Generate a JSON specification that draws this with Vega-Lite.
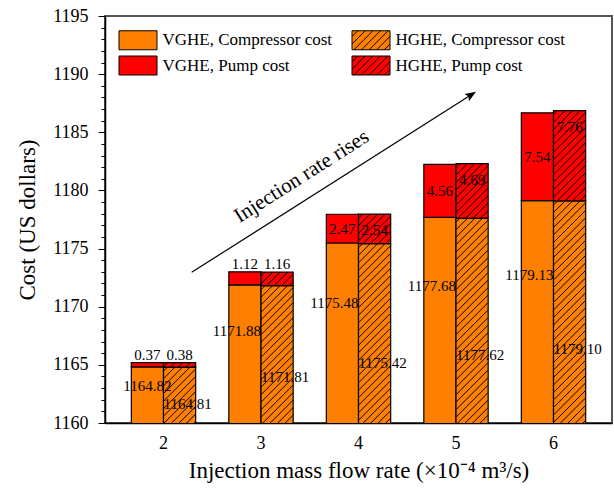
{
  "$schema": "https://vega.github.io/schema/vega-lite/v6.json",
  "width": 507,
  "height": 407,
  "autosize": "none",
  "padding": {"left": 105, "top": 16, "right": 2, "bottom": 70},
  "background": "white",
  "config": {
    "font": "Liberation Serif",
    "view": {"stroke": "#555555", "strokeWidth": 2},
    "axis": {"labelFont": "Liberation Serif", "titleFont": "Liberation Serif", "labelColor": "black", "titleColor": "black", "domainColor": "black", "tickColor": "black", "titleFontWeight": "normal", "grid": false},
    "legend": {"labelFont": "Liberation Serif", "titleFont": "Liberation Serif"},
    "text": {"font": "Liberation Serif"}
  },
  "data": {
    "values": [
      {"flow": "2", "hx": "VGHE", "part": "Compressor", "series": "VGHE, Compressor cost", "value": 1164.82},
      {"flow": "2", "hx": "VGHE", "part": "Pump", "series": "VGHE, Pump cost", "value": 0.37},
      {"flow": "2", "hx": "HGHE", "part": "Compressor", "series": "HGHE, Compressor cost", "value": 1164.81},
      {"flow": "2", "hx": "HGHE", "part": "Pump", "series": "HGHE, Pump cost", "value": 0.38},
      {"flow": "3", "hx": "VGHE", "part": "Compressor", "series": "VGHE, Compressor cost", "value": 1171.88},
      {"flow": "3", "hx": "VGHE", "part": "Pump", "series": "VGHE, Pump cost", "value": 1.12},
      {"flow": "3", "hx": "HGHE", "part": "Compressor", "series": "HGHE, Compressor cost", "value": 1171.81},
      {"flow": "3", "hx": "HGHE", "part": "Pump", "series": "HGHE, Pump cost", "value": 1.16},
      {"flow": "4", "hx": "VGHE", "part": "Compressor", "series": "VGHE, Compressor cost", "value": 1175.48},
      {"flow": "4", "hx": "VGHE", "part": "Pump", "series": "VGHE, Pump cost", "value": 2.47},
      {"flow": "4", "hx": "HGHE", "part": "Compressor", "series": "HGHE, Compressor cost", "value": 1175.42},
      {"flow": "4", "hx": "HGHE", "part": "Pump", "series": "HGHE, Pump cost", "value": 2.54},
      {"flow": "5", "hx": "VGHE", "part": "Compressor", "series": "VGHE, Compressor cost", "value": 1177.68},
      {"flow": "5", "hx": "VGHE", "part": "Pump", "series": "VGHE, Pump cost", "value": 4.56},
      {"flow": "5", "hx": "HGHE", "part": "Compressor", "series": "HGHE, Compressor cost", "value": 1177.62},
      {"flow": "5", "hx": "HGHE", "part": "Pump", "series": "HGHE, Pump cost", "value": 4.69},
      {"flow": "6", "hx": "VGHE", "part": "Compressor", "series": "VGHE, Compressor cost", "value": 1179.13},
      {"flow": "6", "hx": "VGHE", "part": "Pump", "series": "VGHE, Pump cost", "value": 7.54},
      {"flow": "6", "hx": "HGHE", "part": "Compressor", "series": "HGHE, Compressor cost", "value": 1179.10},
      {"flow": "6", "hx": "HGHE", "part": "Pump", "series": "HGHE, Pump cost", "value": 7.76}
    ]
  },
  "resolve": {"scale": {"x": "independent", "y": "independent", "xOffset": "independent"}},
  "layer": [
    {
      "transform": [{"stack": "value", "groupby": ["flow", "hx"], "sort": [{"field": "part", "order": "ascending"}], "as": ["v0", "v1"]}],
      "layer": [
        {
          "mark": {"type": "bar", "clip": true, "stroke": "black", "strokeWidth": 1.2},
          "encoding": {
            "x": {"field": "flow", "type": "nominal", "scale": {"type": "band", "domain": ["2", "3", "4", "5", "6"], "paddingInner": 0.34, "paddingOuter": 0.27},
              "axis": {"title": "Injection mass flow rate (×10⁻⁴ m³/s)", "labelAngle": 0, "ticks": false, "labelFont": "Liberation Serif", "titleFont": "Liberation Serif", "labelFontSize": 18, "labelPadding": 11, "titleFontSize": 23, "titlePadding": 7, "domainWidth": 1.5}},
            "xOffset": {"field": "hx", "type": "nominal", "scale": {"domain": ["VGHE", "HGHE"], "paddingInner": 0, "paddingOuter": 0}},
            "y": {"field": "v1", "type": "quantitative", "title": "Cost (US dollars)", "scale": {"domain": [1160, 1195], "nice": false, "zero": false},
              "axis": {"values": [1160, 1165, 1170, 1175, 1180, 1185, 1190, 1195], "format": "d", "labelOverlap": false, "tickSize": 7, "tickWidth": 1,
                "labelFont": "Liberation Serif", "titleFont": "Liberation Serif",
                "labelFontSize": 18, "labelPadding": 10, "title": "Cost (US dollars)", "titleFontSize": 23, "titlePadding": 13, "domainWidth": 1.5}},
            "y2": {"field": "v0"},
            "color": {"field": "series", "type": "nominal",
              "scale": {"domain": ["VGHE, Compressor cost", "VGHE, Pump cost", "HGHE, Compressor cost", "HGHE, Pump cost"], "range": ["#FF8000", "#FF0000", "#FF8000", "#FF0000"]},
              "legend": {"orient": "none", "legendX": 13.5, "legendY": 14, "columns": 2, "title": null, "symbolSize": 361, "labelOffset": 24, "labelFont": "Liberation Serif", "labelFontSize": 17, "labelColor": "black", "columnPadding": 17, "rowPadding": 1.5, "symbolStrokeWidth": 1, "symbolStrokeColor": "black", "padding": 0, "labelLimit": 300}}
          }
        },
        {
          "encoding": {
            "x": {"field": "flow", "type": "nominal"},
            "xOffset": {"field": "hx", "type": "nominal"},
            "y": {"field": "v1", "type": "quantitative", "title": "Cost (US dollars)", "scale": {"domain": [1160, 1195], "nice": false, "zero": false}}
          },
          "layer": [
            {"transform": [{"filter": "datum.hx=='HGHE' && datum.part=='Compressor' && datum.flow=='2'"}],
             "mark": {"type": "point", "size": 4, "filled": false, "color": "black", "strokeWidth": 1, "opacity": 1,
               "shape": "M-16,4L-12,0M-16,11.5L-4.5,0M-16,19L3,0M-16,26.5L10.5,0M-16,34L16,2M-16,41.5L16,9.5M-16,49L16,17M-15.4,55.9L16,24.5M-7.9,55.9L16,32M-0.4,55.9L16,39.5M7.1,55.9L16,47M14.6,55.9L16,54.5"}},
            {"transform": [{"filter": "datum.hx=='HGHE' && datum.part=='Compressor' && datum.flow=='3'"}],
             "mark": {"type": "point", "size": 4, "filled": false, "color": "black", "strokeWidth": 1, "opacity": 1,
               "shape": "M-16,4L-12,0M-16,11.5L-4.5,0M-16,19L3,0M-16,26.5L10.5,0M-16,34L16,2M-16,41.5L16,9.5M-16,49L16,17M-16,56.5L16,24.5M-16,64L16,32M-16,71.5L16,39.5M-16,79L16,47M-16,86.5L16,54.5M-16,94L16,62M-16,101.5L16,69.5M-16,109L16,77M-16,116.5L16,84.5M-16,124L16,92M-16,131.5L16,99.5M-14.3,137.3L16,107M-6.8,137.3L16,114.5M0.7,137.3L16,122M8.2,137.3L16,129.5"}},
            {"transform": [{"filter": "datum.hx=='HGHE' && datum.part=='Compressor' && datum.flow=='4'"}],
             "mark": {"type": "point", "size": 4, "filled": false, "color": "black", "strokeWidth": 1, "opacity": 1,
               "shape": "M-16,4L-12,0M-16,11.5L-4.5,0M-16,19L3,0M-16,26.5L10.5,0M-16,34L16,2M-16,41.5L16,9.5M-16,49L16,17M-16,56.5L16,24.5M-16,64L16,32M-16,71.5L16,39.5M-16,79L16,47M-16,86.5L16,54.5M-16,94L16,62M-16,101.5L16,69.5M-16,109L16,77M-16,116.5L16,84.5M-16,124L16,92M-16,131.5L16,99.5M-16,139L16,107M-16,146.5L16,114.5M-16,154L16,122M-16,161.5L16,129.5M-16,169L16,137M-16,176.5L16,144.5M-11.3,179.3L16,152M-3.8,179.3L16,159.5M3.7,179.3L16,167M11.2,179.3L16,174.5"}},
            {"transform": [{"filter": "datum.hx=='HGHE' && datum.part=='Compressor' && datum.flow=='5'"}],
             "mark": {"type": "point", "size": 4, "filled": false, "color": "black", "strokeWidth": 1, "opacity": 1,
               "shape": "M-16,4L-12,0M-16,11.5L-4.5,0M-16,19L3,0M-16,26.5L10.5,0M-16,34L16,2M-16,41.5L16,9.5M-16,49L16,17M-16,56.5L16,24.5M-16,64L16,32M-16,71.5L16,39.5M-16,79L16,47M-16,86.5L16,54.5M-16,94L16,62M-16,101.5L16,69.5M-16,109L16,77M-16,116.5L16,84.5M-16,124L16,92M-16,131.5L16,99.5M-16,139L16,107M-16,146.5L16,114.5M-16,154L16,122M-16,161.5L16,129.5M-16,169L16,137M-16,176.5L16,144.5M-16,184L16,152M-16,191.5L16,159.5M-16,199L16,167M-14.4,204.9L16,174.5M-6.9,204.9L16,182M0.6,204.9L16,189.5M8.1,204.9L16,197"}},
            {"transform": [{"filter": "datum.hx=='HGHE' && datum.part=='Compressor' && datum.flow=='6'"}],
             "mark": {"type": "point", "size": 4, "filled": false, "color": "black", "strokeWidth": 1, "opacity": 1,
               "shape": "M-16,4L-12,0M-16,11.5L-4.5,0M-16,19L3,0M-16,26.5L10.5,0M-16,34L16,2M-16,41.5L16,9.5M-16,49L16,17M-16,56.5L16,24.5M-16,64L16,32M-16,71.5L16,39.5M-16,79L16,47M-16,86.5L16,54.5M-16,94L16,62M-16,101.5L16,69.5M-16,109L16,77M-16,116.5L16,84.5M-16,124L16,92M-16,131.5L16,99.5M-16,139L16,107M-16,146.5L16,114.5M-16,154L16,122M-16,161.5L16,129.5M-16,169L16,137M-16,176.5L16,144.5M-16,184L16,152M-16,191.5L16,159.5M-16,199L16,167M-16,206.5L16,174.5M-16,214L16,182M-16,221.5L16,189.5M-9.1,222.1L16,197M-1.6,222.1L16,204.5M5.9,222.1L16,212M13.4,222.1L16,219.5"}},
            {"transform": [{"filter": "datum.hx=='HGHE' && datum.part=='Pump' && datum.flow=='2'"}],
             "mark": {"type": "point", "size": 4, "filled": false, "color": "black", "strokeWidth": 1, "opacity": 1,
               "shape": "M-16,4L-12,0M-8.9,4.4L-4.5,0M-1.4,4.4L3,0M6.1,4.4L10.5,0M13.6,4.4L16,2"}},
            {"transform": [{"filter": "datum.hx=='HGHE' && datum.part=='Pump' && datum.flow=='3'"}],
             "mark": {"type": "point", "size": 4, "filled": false, "color": "black", "strokeWidth": 1, "opacity": 1,
               "shape": "M-16,4L-12,0M-16,11.5L-4.5,0M-10.5,13.5L3,0M-3,13.5L10.5,0M4.5,13.5L16,2M12,13.5L16,9.5"}},
            {"transform": [{"filter": "datum.hx=='HGHE' && datum.part=='Pump' && datum.flow=='4'"}],
             "mark": {"type": "point", "size": 4, "filled": false, "color": "black", "strokeWidth": 1, "opacity": 1,
               "shape": "M-16,4L-12,0M-16,11.5L-4.5,0M-16,19L3,0M-16,26.5L10.5,0M-11.5,29.5L16,2M-4,29.5L16,9.5M3.5,29.5L16,17M11,29.5L16,24.5"}},
            {"transform": [{"filter": "datum.hx=='HGHE' && datum.part=='Pump' && datum.flow=='5'"}],
             "mark": {"type": "point", "size": 4, "filled": false, "color": "black", "strokeWidth": 1, "opacity": 1,
               "shape": "M-16,4L-12,0M-16,11.5L-4.5,0M-16,19L3,0M-16,26.5L10.5,0M-16,34L16,2M-16,41.5L16,9.5M-16,49L16,17M-14,54.5L16,24.5M-6.5,54.5L16,32M1,54.5L16,39.5M8.5,54.5L16,47"}},
            {"transform": [{"filter": "datum.hx=='HGHE' && datum.part=='Pump' && datum.flow=='6'"}],
             "mark": {"type": "point", "size": 4, "filled": false, "color": "black", "strokeWidth": 1, "opacity": 1,
               "shape": "M-16,4L-12,0M-16,11.5L-4.5,0M-16,19L3,0M-16,26.5L10.5,0M-16,34L16,2M-16,41.5L16,9.5M-16,49L16,17M-16,56.5L16,24.5M-16,64L16,32M-16,71.5L16,39.5M-16,79L16,47M-16,86.5L16,54.5M-12.2,90.2L16,62M-4.7,90.2L16,69.5M2.8,90.2L16,77M10.3,90.2L16,84.5"}},
            {"transform": [{"filter": "datum.part=='Pump' && datum.value < 2"}],
             "mark": {"type": "text", "baseline": "middle", "dy": -8, "fontSize": 15, "color": "black"},
             "encoding": {"text": {"field": "value", "type": "quantitative", "format": ".2f"}}},
            {"transform": [{"filter": "datum.hx=='HGHE' && datum.part=='Pump' && datum.value >= 2"}],
             "mark": {"type": "text", "baseline": "middle", "dy": 16, "fontSize": 15, "color": "black"},
             "encoding": {"text": {"field": "value", "type": "quantitative", "format": ".2f"}}}
          ]
        },
        {
          "transform": [{"filter": "datum.hx=='VGHE' && indexof(['4','5','6'], datum.flow) >= 0"}],
          "mark": {"type": "text", "baseline": "middle", "fontSize": 15, "color": "black", "clip": true},
          "encoding": {
            "x": {"field": "flow", "type": "nominal"},
            "xOffset": {"field": "hx", "type": "nominal"},
            "y": {"field": "value", "type": "quantitative", "stack": "zero", "bandPosition": 0.5, "title": "Cost (US dollars)", "scale": {"domain": [1160, 1195], "nice": false, "zero": false}},
            "order": {"field": "part", "type": "nominal"},
            "text": {"condition": {"test": "datum.part == 'Pump'", "field": "value", "type": "quantitative", "format": ".2f"}, "value": ""}
          }
        },
        {
          "transform": [{"filter": "false"}],
          "mark": {"type": "point", "filled": true, "stroke": "black", "strokeWidth": 1, "opacity": 1},
          "encoding": {
            "color": {"field": "series", "type": "nominal",
              "scale": {"domain": ["VGHE, Compressor cost", "VGHE, Pump cost", "HGHE, Compressor cost", "HGHE, Pump cost"], "range": ["#FF8000", "#FF0000", "#FF8000", "#FF0000"]},
              "legend": {"orient": "none", "legendX": 13.5, "legendY": 14, "columns": 2, "title": null, "symbolSize": 361, "labelOffset": 24, "labelFont": "Liberation Serif", "labelFontSize": 17, "labelColor": "black", "columnPadding": 17, "rowPadding": 1.5, "symbolStrokeWidth": 1, "symbolStrokeColor": "black", "padding": 0, "labelLimit": 300}},
            "shape": {"field": "series", "type": "nominal",
              "scale": {"domain": ["VGHE, Compressor cost", "VGHE, Pump cost", "HGHE, Compressor cost", "HGHE, Pump cost"],
                "range": ["M-1,-1H3V1H-1Z", "M-1,-1H3V1H-1Z", "M-1,-1H3V1H-1ZM-1,-0.4L-0.4,-1M-1,0.4L0.4,-1M-0.8,1L1.2,-1M0,1L2,-1M0.8,1L2.8,-1M1.6,1L3,-0.4M2.4,1L3,0.4", "M-1,-1H3V1H-1ZM-1,-0.4L-0.4,-1M-1,0.4L0.4,-1M-0.8,1L1.2,-1M0,1L2,-1M0.8,1L2.8,-1M1.6,1L3,-0.4M2.4,1L3,0.4"]},
              "legend": {"orient": "none", "legendX": 13.5, "legendY": 14, "columns": 2, "title": null, "symbolSize": 361, "labelOffset": 24, "labelFont": "Liberation Serif", "labelFontSize": 17, "labelColor": "black", "columnPadding": 17, "rowPadding": 1.5, "symbolStrokeWidth": 1, "symbolStrokeColor": "black", "padding": 0, "labelLimit": 300}}
          }
        }
      ]
    },
    {
      "transform": [{"filter": "datum.hx=='VGHE' && datum.part=='Compressor'"}],
      "layer": [
        {
          "transform": [{"filter": "datum.flow=='2'"}],
          "mark": {"type": "text", "align": "center", "baseline": "middle", "fontSize": 15, "color": "black"},
          "encoding": {
            "x": {"field": "flow", "type": "nominal", "bandPosition": 0.25, "scale": {"type": "band", "domain": ["2", "3", "4", "5", "6"], "paddingInner": 0.34, "paddingOuter": 0.27}, "axis": null},
            "y": {"field": "value", "type": "quantitative", "scale": {"domain": [1160, 1212.5], "nice": false, "zero": false}, "axis": null},
            "text": {"field": "value", "type": "quantitative", "format": ".2f"}
          }
        },
        {
          "transform": [{"filter": "datum.flow!='2'"}],
          "mark": {"type": "text", "align": "right", "baseline": "middle", "fontSize": 15, "color": "black"},
          "encoding": {
            "x": {"field": "flow", "type": "nominal", "scale": {"type": "band", "domain": ["2", "3", "4", "5", "6"], "paddingInner": 0.34, "paddingOuter": 0.27}, "axis": null},
            "y": {"field": "value", "type": "quantitative", "scale": {"domain": [1160, 1212.5], "nice": false, "zero": false}, "axis": null},
            "text": {"field": "value", "type": "quantitative", "format": ".2f"}
          }
        }
      ]
    },
    {
      "transform": [{"filter": "datum.hx=='HGHE' && datum.part=='Compressor'"}],
      "mark": {"type": "text", "align": "left", "baseline": "middle", "fontSize": 15, "color": "black"},
      "encoding": {
        "x": {"field": "flow", "type": "nominal", "scale": {"type": "band", "domain": ["2", "3", "4", "5", "6"], "paddingInner": 0.34, "paddingOuter": 0.27}, "axis": null},
        "y": {"field": "value", "type": "quantitative", "scale": {"domain": [1160, 1265], "nice": false, "zero": false}, "axis": null},
        "text": {"field": "value", "type": "quantitative", "format": ".2f"}
      }
    },
    {
      "data": {"values": [{"label": "Injection rate rises"}]},
      "layer": [
        {
          "mark": {"type": "rule", "color": "black", "strokeWidth": 1.2},
          "encoding": {
            "x": {"datum": 2.289, "type": "quantitative", "scale": {"domain": [1.4, 6.6], "nice": false, "zero": false}, "axis": null},
            "y": {"datum": 1172.96, "type": "quantitative", "scale": {"domain": [1160, 1195], "nice": false, "zero": false}, "axis": null},
            "x2": {"datum": 5.136},
            "y2": {"datum": 1188.12}
          }
        },
        {
          "mark": {"type": "point", "filled": true, "color": "black", "opacity": 1, "size": 484, "angle": -32.4, "shape": "M0,0L-1,-0.38L-0.8,0L-1,0.38Z"},
          "encoding": {
            "x": {"datum": 5.205, "type": "quantitative", "scale": {"domain": [1.4, 6.6], "nice": false, "zero": false}, "axis": null},
            "y": {"datum": 1188.49, "type": "quantitative", "scale": {"domain": [1160, 1195], "nice": false, "zero": false}, "axis": null}
          }
        },
        {
          "mark": {"type": "text", "angle": -32.4, "align": "center", "baseline": "middle", "fontSize": 21, "color": "black"},
          "encoding": {
            "x": {"datum": 3.417, "type": "quantitative", "scale": {"domain": [1.4, 6.6], "nice": false, "zero": false}, "axis": null},
            "y": {"datum": 1181.18, "type": "quantitative", "scale": {"domain": [1160, 1195], "nice": false, "zero": false}, "axis": null},
            "text": {"field": "label", "type": "nominal"}
          }
        }
      ]
    },
    {
      "data": {"values": [{}]},
      "mark": {"type": "point", "opacity": 0},
      "encoding": {
        "y": {"datum": 1170, "type": "quantitative", "scale": {"domain": [1160, 1195], "nice": false, "zero": false},
          "axis": {"orient": "left", "values": [1160,1161,1162,1163,1164,1165,1166,1167,1168,1169,1170,1171,1172,1173,1174,1175,1176,1177,1178,1179,1180,1181,1182,1183,1184,1185,1186,1187,1188,1189,1190,1191,1192,1193,1194,1195],
            "labels": false, "domain": false, "tickSize": 4, "tickWidth": 1, "tickColor": "black", "title": null, "grid": false}}
      }
    }
  ]
}
